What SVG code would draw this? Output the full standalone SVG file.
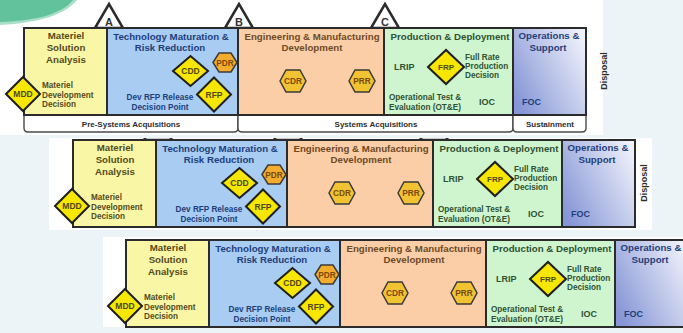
<svg xmlns="http://www.w3.org/2000/svg" width="683" height="333" viewBox="0 0 683 333">
<style>
.ph{stroke:#2b2b2b;stroke-width:2}
.tri{fill:#fff;stroke:#2b2b2b;stroke-width:2.5;stroke-linejoin:miter}
.band{fill:#fff;stroke:#4a4a4a;stroke-width:1.4}
.dia{fill:#f6e600;stroke:#1e1e1e;stroke-width:2;stroke-linejoin:miter}
.hex{stroke:#3a3a3a;stroke-width:1.5}
.hp{fill:#f4ac2c}
.hc{fill:#f1c232}
text{font-family:"Liberation Sans",Arial,sans-serif;font-weight:bold}
.tt{font-size:9.7px;text-anchor:middle}
.sm{font-size:8.2px}
.mid{text-anchor:middle}
.big{font-size:9px}
.lb{font-size:8.5px;text-anchor:middle;fill:#4e4a1a}
.hl{font-size:8.3px;text-anchor:middle;fill:#7a4a08}
.bt{font-size:8px;text-anchor:middle;fill:#2e2e2e}
.ml{font-size:11px;text-anchor:middle;fill:#333}
.dp{font-size:9px;text-anchor:middle;fill:#2e2e2e}
.cy{fill:#564b1c}.cb{fill:#1f3f7a}.co{fill:#6e4a26}.cg{fill:#2f5233}.cp{fill:#1f3f7a}
</style>
<defs>
<linearGradient id="opsg" x1="0" y1="0.8" x2="1" y2="0.2">
<stop offset="0" stop-color="#8595d6"/>
<stop offset="1" stop-color="#eef0fa"/>
</linearGradient>
<clipPath id="cl2"><rect x="0" y="138" width="683" height="92"/></clipPath>
<clipPath id="cl3"><rect x="0" y="237" width="683" height="91"/></clipPath>
</defs>

<rect x="0" y="0" width="683" height="333" fill="#ecf4f7"/>
<rect x="0" y="0" width="603" height="135" fill="#fff"/>
<rect x="49" y="138" width="603" height="92" fill="#fff"/>
<rect x="103" y="237" width="580" height="90" fill="#fff"/>
<path d="M0,0 H77 C65,15 38,23 0,25 Z" fill="#a8dfc6"/>
<path d="M0,0 H73 C62,14 35,21 0,22 Z" fill="#62c29b"/>

<!-- COPY 1 -->
<g id="copy1">
 <g id="c1-milestones">
  <g id="c1-ms-a"><polygon class="tri" points="95,28 109,4 123,28"/><text class="ml" x="109" y="26">A</text></g>
  <g id="c1-ms-b"><polygon class="tri" points="225,28 239,4 253,28"/><text class="ml" x="239" y="26">B</text></g>
  <g id="c1-ms-c"><polygon class="tri" points="371,28 385,4 399,28"/><text class="ml" x="385" y="26">C</text></g>
 </g>
 <g id="c1-band">
  <path class="band" d="M24,115 V128 Q24,132 28,132 H234 Q238,132 238,128 V115"/>
  <path class="band" d="M238,115 V128 Q238,132 242,132 H509 Q513,132 513,128 V115"/>
  <path class="band" d="M513,115 V128 Q513,132 517,132 H582 Q586,132 586,128 V115"/>
  <text class="bt" x="131" y="127">Pre-Systems Acquisitions</text>
  <text class="bt" x="376" y="127">Systems Acquisitions</text>
  <text class="bt" x="550" y="126.5">Sustainment</text>
 </g>
 <g id="c1-msa">
  <rect class="ph" x="24" y="28" width="83" height="87" fill="#f9f7a6"/>
  <text class="tt cy" x="66" y="39">Materiel</text>
  <text class="tt cy" x="66" y="51">Solution</text>
  <text class="tt cy" x="66" y="63">Analysis</text>
  <text class="sm cy" x="42" y="88">Materiel</text>
  <text class="sm cy" x="42" y="97.5">Development</text>
  <text class="sm cy" x="42" y="107">Decision</text>
 </g>
 <g id="c1-tmrr">
  <rect class="ph" x="107" y="28" width="131" height="87" fill="#a8ccf2"/>
  <text class="tt cb" x="171" y="39.5">Technology Maturation &amp;</text>
  <text class="tt cb" x="170" y="50.5">Risk Reduction</text>
  <text class="sm cb mid" x="160" y="99.5">Dev RFP Release</text>
  <text class="sm cb mid" x="160" y="110">Decision Point</text>
 </g>
 <g id="c1-emd">
  <rect class="ph" x="238" y="28" width="146" height="87" fill="#fbcea7"/>
  <text class="tt co" x="312" y="39.5">Engineering &amp; Manufacturing</text>
  <text class="tt co" x="312" y="51">Development</text>
 </g>
 <g id="c1-pd">
  <rect class="ph" x="384" y="28" width="129" height="87" fill="#cff5cf"/>
  <text class="tt cg" x="450" y="39.5">Production &amp; Deployment</text>
  <text class="big cg" x="394" y="70">LRIP</text>
  <text class="sm cg" x="465" y="59.5">Full Rate</text>
  <text class="sm cg" x="465" y="68.5">Production</text>
  <text class="sm cg" x="465" y="78">Decision</text>
  <text class="sm cg" x="389" y="99.5">Operational Test &amp;</text>
  <text class="sm cg" x="389" y="110">Evaluation (OT&amp;E)</text>
  <text class="big cg mid" x="487" y="104.5">IOC</text>
 </g>
 <g id="c1-os">
  <rect class="ph" x="513" y="28" width="73" height="87" fill="url(#opsg)"/>
  <text class="tt cp" x="549" y="39">Operations &amp;</text>
  <text class="tt cp" x="548" y="50.5">Support</text>
  <text class="big cp" x="522" y="104.5">FOC</text>
 </g>
 <g id="c1-disposal"><text class="dp" transform="translate(607,71) rotate(-90)">Disposal</text></g>
 <g id="c1-mdd"><polygon class="dia" points="6,94 23,77 40,94 23,111"/><text class="lb" x="23" y="97">MDD</text></g>
 <g id="c1-cdd"><polygon class="dia" points="173,71 190.5,56 208,71 190.5,86"/><text class="lb" x="190.5" y="74">CDD</text></g>
 <g id="c1-pdr"><polygon class="hex hp" points="213,62.5 219,53 231,53 237,62.5 231,72 219,72"/><text class="hl" x="225" y="65.5">PDR</text></g>
 <g id="c1-rfp"><polygon class="dia" points="197,94.5 214,77.5 231,94.5 214,111.5"/><text class="lb" x="214" y="97.5">RFP</text></g>
 <g id="c1-cdr"><polygon class="hex hc" points="280,81 286,70 300,70 306,81 300,92 286,92"/><text class="hl" x="293" y="84">CDR</text></g>
 <g id="c1-prr"><polygon class="hex hc" points="349,81 355,70 369,70 375,81 369,92 355,92"/><text class="hl" x="362" y="84">PRR</text></g>
 <g id="c1-frp"><polygon class="dia" points="428,67 446,50 464,67 446,84"/><text class="lb" x="446" y="70" style="font-size:8px">FRP</text></g>
</g>

<!-- COPY 2 -->
<g clip-path="url(#cl2)">
<g id="copy2" transform="translate(49,112)">
 <g id="c2-milestones">
  <g id="c2-ms-a"><polygon class="tri" points="95,28 109,4 123,28"/></g>
  <g id="c2-ms-b"><polygon class="tri" points="225,28 239,4 253,28"/></g>
  <g id="c2-ms-c"><polygon class="tri" points="371,28 385,4 399,28"/></g>
 </g>
 <g id="c2-msa">
  <rect class="ph" x="24" y="28" width="83" height="87" fill="#f9f7a6"/>
  <text class="tt cy" x="66" y="39">Materiel</text>
  <text class="tt cy" x="66" y="51">Solution</text>
  <text class="tt cy" x="66" y="63">Analysis</text>
  <text class="sm cy" x="42" y="88">Materiel</text>
  <text class="sm cy" x="42" y="97.5">Development</text>
  <text class="sm cy" x="42" y="107">Decision</text>
 </g>
 <g id="c2-tmrr">
  <rect class="ph" x="107" y="28" width="131" height="87" fill="#a8ccf2"/>
  <text class="tt cb" x="171" y="39.5">Technology Maturation &amp;</text>
  <text class="tt cb" x="170" y="50.5">Risk Reduction</text>
  <text class="sm cb mid" x="160" y="99.5">Dev RFP Release</text>
  <text class="sm cb mid" x="160" y="110">Decision Point</text>
 </g>
 <g id="c2-emd">
  <rect class="ph" x="238" y="28" width="146" height="87" fill="#fbcea7"/>
  <text class="tt co" x="312" y="39.5">Engineering &amp; Manufacturing</text>
  <text class="tt co" x="312" y="51">Development</text>
 </g>
 <g id="c2-pd">
  <rect class="ph" x="384" y="28" width="129" height="87" fill="#cff5cf"/>
  <text class="tt cg" x="450" y="39.5">Production &amp; Deployment</text>
  <text class="big cg" x="394" y="70">LRIP</text>
  <text class="sm cg" x="465" y="59.5">Full Rate</text>
  <text class="sm cg" x="465" y="68.5">Production</text>
  <text class="sm cg" x="465" y="78">Decision</text>
  <text class="sm cg" x="389" y="99.5">Operational Test &amp;</text>
  <text class="sm cg" x="389" y="110">Evaluation (OT&amp;E)</text>
  <text class="big cg mid" x="487" y="104.5">IOC</text>
 </g>
 <g id="c2-os">
  <rect class="ph" x="513" y="28" width="73" height="87" fill="url(#opsg)"/>
  <text class="tt cp" x="549" y="39">Operations &amp;</text>
  <text class="tt cp" x="548" y="50.5">Support</text>
  <text class="big cp" x="522" y="104.5">FOC</text>
 </g>
 <g id="c2-disposal"><text class="dp" transform="translate(598,71) rotate(-90)">Disposal</text></g>
 <g id="c2-mdd"><polygon class="dia" points="6,94 23,77 40,94 23,111"/><text class="lb" x="23" y="97">MDD</text></g>
 <g id="c2-cdd"><polygon class="dia" points="173,71 190.5,56 208,71 190.5,86"/><text class="lb" x="190.5" y="74">CDD</text></g>
 <g id="c2-pdr"><polygon class="hex hp" points="213,62.5 219,53 231,53 237,62.5 231,72 219,72"/><text class="hl" x="225" y="65.5">PDR</text></g>
 <g id="c2-rfp"><polygon class="dia" points="197,94.5 214,77.5 231,94.5 214,111.5"/><text class="lb" x="214" y="97.5">RFP</text></g>
 <g id="c2-cdr"><polygon class="hex hc" points="280,81 286,70 300,70 306,81 300,92 286,92"/><text class="hl" x="293" y="84">CDR</text></g>
 <g id="c2-prr"><polygon class="hex hc" points="349,81 355,70 369,70 375,81 369,92 355,92"/><text class="hl" x="362" y="84">PRR</text></g>
 <g id="c2-frp"><polygon class="dia" points="428,67 446,50 464,67 446,84"/><text class="lb" x="446" y="70" style="font-size:8px">FRP</text></g>
</g>
</g>

<!-- COPY 3 -->
<g clip-path="url(#cl3)">
<g id="copy3" transform="translate(102,212)">
 <g id="c3-msa">
  <rect class="ph" x="24" y="28" width="83" height="87" fill="#f9f7a6"/>
  <text class="tt cy" x="66" y="39">Materiel</text>
  <text class="tt cy" x="66" y="51">Solution</text>
  <text class="tt cy" x="66" y="63">Analysis</text>
  <text class="sm cy" x="42" y="88">Materiel</text>
  <text class="sm cy" x="42" y="97.5">Development</text>
  <text class="sm cy" x="42" y="107">Decision</text>
 </g>
 <g id="c3-tmrr">
  <rect class="ph" x="107" y="28" width="131" height="87" fill="#a8ccf2"/>
  <text class="tt cb" x="171" y="39.5">Technology Maturation &amp;</text>
  <text class="tt cb" x="170" y="50.5">Risk Reduction</text>
  <text class="sm cb mid" x="160" y="99.5">Dev RFP Release</text>
  <text class="sm cb mid" x="160" y="110">Decision Point</text>
 </g>
 <g id="c3-emd">
  <rect class="ph" x="238" y="28" width="146" height="87" fill="#fbcea7"/>
  <text class="tt co" x="312" y="39.5">Engineering &amp; Manufacturing</text>
  <text class="tt co" x="312" y="51">Development</text>
 </g>
 <g id="c3-pd">
  <rect class="ph" x="384" y="28" width="129" height="87" fill="#cff5cf"/>
  <text class="tt cg" x="450" y="39.5">Production &amp; Deployment</text>
  <text class="big cg" x="394" y="70">LRIP</text>
  <text class="sm cg" x="465" y="59.5">Full Rate</text>
  <text class="sm cg" x="465" y="68.5">Production</text>
  <text class="sm cg" x="465" y="78">Decision</text>
  <text class="sm cg" x="389" y="99.5">Operational Test &amp;</text>
  <text class="sm cg" x="389" y="110">Evaluation (OT&amp;E)</text>
  <text class="big cg mid" x="487" y="104.5">IOC</text>
 </g>
 <g id="c3-os">
  <rect class="ph" x="513" y="28" width="73" height="87" fill="url(#opsg)"/>
  <text class="tt cp" x="549" y="39">Operations &amp;</text>
  <text class="tt cp" x="548" y="50.5">Support</text>
  <text class="big cp" x="522" y="104.5">FOC</text>
 </g>
 <g id="c3-mdd"><polygon class="dia" points="6,94 23,77 40,94 23,111"/><text class="lb" x="23" y="97">MDD</text></g>
 <g id="c3-cdd"><polygon class="dia" points="173,71 190.5,56 208,71 190.5,86"/><text class="lb" x="190.5" y="74">CDD</text></g>
 <g id="c3-pdr"><polygon class="hex hp" points="213,62.5 219,53 231,53 237,62.5 231,72 219,72"/><text class="hl" x="225" y="65.5">PDR</text></g>
 <g id="c3-rfp"><polygon class="dia" points="197,94.5 214,77.5 231,94.5 214,111.5"/><text class="lb" x="214" y="97.5">RFP</text></g>
 <g id="c3-cdr"><polygon class="hex hc" points="280,81 286,70 300,70 306,81 300,92 286,92"/><text class="hl" x="293" y="84">CDR</text></g>
 <g id="c3-prr"><polygon class="hex hc" points="349,81 355,70 369,70 375,81 369,92 355,92"/><text class="hl" x="362" y="84">PRR</text></g>
 <g id="c3-frp"><polygon class="dia" points="428,67 446,50 464,67 446,84"/><text class="lb" x="446" y="70" style="font-size:8px">FRP</text></g>
</g>
</g>
</svg>
